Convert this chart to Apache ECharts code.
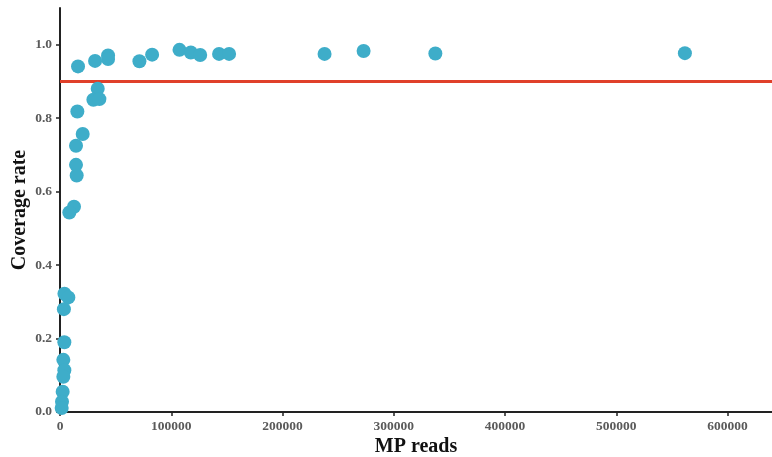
<!DOCTYPE html>
<html><head><meta charset="utf-8">
<script src="https://cdn.jsdelivr.net/npm/echarts@6/dist/echarts.min.js"></script>
<style>html,body{margin:0;padding:0;background:#fff}#c{width:772px;height:457px}</style>
</head><body><div id="c"></div>
<script>
const mpReads = [16200,31500,43200,43200,71400,82800,107400,117600,126000,143000,152000,237800,272900,337400,561700,
  33900,30000,35400,15600,20400,14400,14400,15000,12600,8400,
  4000,7500,3500,3900,3000,3900,3000,2400,1800,1500];
const coverage = [0.941,0.956,0.971,0.961,0.955,0.973,0.986,0.979,0.972,0.975,0.975,0.975,0.983,0.976,0.977,
  0.880,0.850,0.852,0.818,0.757,0.725,0.673,0.644,0.559,0.543,
  0.322,0.312,0.280,0.190,0.142,0.114,0.096,0.055,0.028,0.011];
const threshold = 0.9;
const xTicks = [0,100000,200000,300000,400000,500000,600000];
const yTicks = [0,0.2,0.4,0.6,0.8,1.0];

const pts = mpReads.map((x,i)=>[x,coverage[i]]);
const font = '"Liberation Serif","DejaVu Serif",serif';
const chart = echarts.init(document.getElementById('c'));
chart.setOption({
  animation:false,
  grid:{left:60,right:0,top:8,bottom:45,outerBoundsMode:'none',containLabel:false},
  xAxis:{type:'value',min:0,max:640000,
    name:'MP reads',nameLocation:'middle',nameGap:25,nameMoveOverlap:false,
    nameTextStyle:{fontFamily:font,fontWeight:'bold',fontSize:20,color:'#111'},
    axisLine:{show:true,onZero:false,lineStyle:{color:'#222',width:2}},
    axisTick:{show:true,customValues:xTicks,length:4,lineStyle:{color:'#222',width:1.5}},
    axisLabel:{customValues:xTicks,formatter:v=>String(v),fontFamily:font,fontWeight:'bold',fontSize:13.5,color:'#5a5a5a',margin:8},
    splitLine:{show:false}},
  yAxis:{type:'value',min:0,max:1.1,
    name:'Coverage rate',nameLocation:'middle',nameGap:30,nameMoveOverlap:false,
    nameTextStyle:{fontFamily:font,fontWeight:'bold',fontSize:20,color:'#111'},
    axisLine:{show:true,onZero:false,lineStyle:{color:'#222',width:2}},
    axisTick:{show:true,customValues:yTicks,length:4,lineStyle:{color:'#222',width:1.5}},
    axisLabel:{customValues:yTicks,formatter:v=>v.toFixed(1),fontFamily:font,fontWeight:'bold',fontSize:13.5,color:'#5a5a5a',margin:8},
    splitLine:{show:false}},
  series:[
    {type:'scatter',data:pts,symbolSize:14,itemStyle:{color:'#3eadc9',opacity:1},z:3,
     markLine:{silent:true,symbol:'none',label:{show:false},
       lineStyle:{color:'#e0402a',width:3,type:'solid'},
       data:[{yAxis:threshold}],z:2}}
  ]
});
</script></body></html>
